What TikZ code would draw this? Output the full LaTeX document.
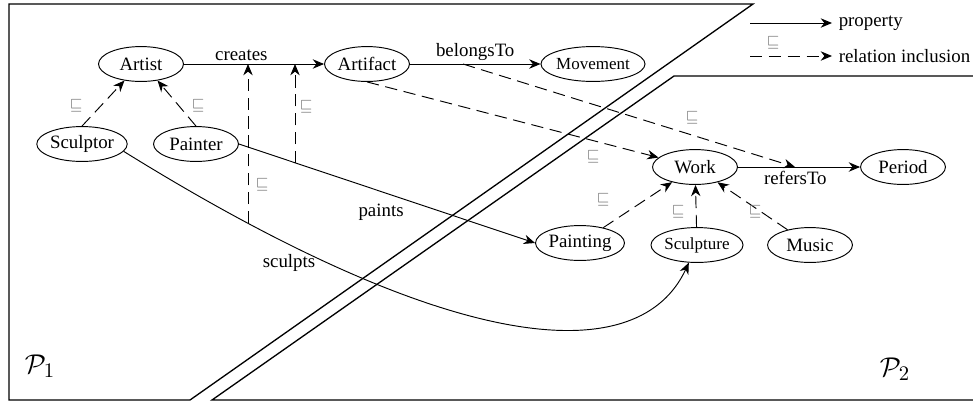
\documentclass[tikz,border=0pt]{standalone}
\usepackage{amsmath,amssymb}
\usepackage{fontspec}
\setmainfont{Liberation Serif}
\usetikzlibrary{arrows.meta,shapes.geometric,calc}

\begin{document}
\begin{tikzpicture}[x=0.53pt,y=-0.53pt,line width=0.5pt,
    concept/.style={draw,ellipse,minimum width=45pt,minimum height=18.5pt,inner sep=0pt},
    prop/.style={-{Stealth[length=6pt,width=5pt]}},
    incl/.style={-{Stealth[length=6pt,width=5pt]},dash pattern=on 6.5pt off 3.5pt},
    sqlabel/.style={text=black!55,font=\footnotesize,inner sep=0pt},
    bigP/.style={font=\fontsize{15}{18}\selectfont}]
    \useasboundingbox (0,0) rectangle (973,401);
    % the two ontologies
    \draw[line width=0.7pt] (753,4) -- (9,4) -- (9,400) -- (190,400) -- cycle;
    \draw[line width=0.7pt] (973,76) -- (674,76) -- (212,400) -- (973,400);
    \node[bigP] (P1) at (40,366) {$\mathcal{P}_1$};
    \node[bigP] (P2) at (895,369) {$\mathcal{P}_2$};
    % concepts
    \node[concept] (artist) at (141,64) {Artist};
    \node[concept] (artifact) at (367,64) {Artifact};
    \node[concept,font=\small] (movement) at (593,64) {Movement};
    \node[concept] (sculptor) at (82,144) {Sculptor};
    \node[concept] (painter) at (196,144) {Painter};
    \node[concept] (work) at (695,167) {Work};
    \node[concept] (period) at (903,167) {Period};
    \node[concept] (painting) at (580,243) {Painting};
    \node[concept,font=\small] (sculpture) at (697,245) {Sculpture};
    \node[concept] (music) at (810,245) {Music};
    % properties
    \draw[prop] (artist) -- (artifact) node[pos=0.41,above,inner sep=1.5pt] (lcreates) {creates};
    \draw[prop] (artifact) -- (movement) node[midway,above,inner sep=1.5pt] (lbelongs) {belongsTo};
    \draw[prop] (work) -- (period) node[pos=0.47,below,inner sep=2pt] (lrefers) {refersTo};
    \draw[prop] (painter.east) -- (painting.west) node[pos=0.48,below=3pt] (lpaints) {paints};
    \draw[prop] (sculptor.-10) .. controls (460,360) and (640,368) .. (sculpture);
    \node (lsculpts) at (289,263) {sculpts};
    % inclusions
    \coordinate (c1) at (248,64);
    \coordinate (c2) at (295,64);
    \coordinate (s1) at (248,223);
    \coordinate (p1) at (295,163);
    \coordinate (b1) at (463,64);
    \coordinate (r1) at (795,167);
    \draw[incl] (sculptor.north) -- (artist.-135);
    \draw[incl] (painter.north) -- (artist.-45);
    \draw[incl] (s1) -- (c1);
    \draw[incl] (p1) -- (c2);
    \draw[incl] (artifact.south) -- (work);
    \draw[incl] (b1) -- (r1);
    \draw[incl] (painting) -- (work);
    \draw[incl] (sculpture) -- (work);
    \draw[incl] (music) -- (work);
    \foreach \x/\y [count=\i] in {76/106,198/106,306/107,262/185,593/157,692/118,603/200,678/212,755/212,773/43}
        \node[sqlabel] (sq\i) at (\x,\y) {$\sqsubseteq$};
    % legend
    \coordinate (l1) at (750,23);
    \coordinate (l2) at (832,23);
    \coordinate (l3) at (750,56);
    \coordinate (l4) at (832,56);
    \draw[prop] (l1) -- (l2) node[right] (lprop) {property};
    \draw[incl] (l3) -- (l4) node[right] (lincl) {relation inclusion};
\end{tikzpicture}
\end{document}
